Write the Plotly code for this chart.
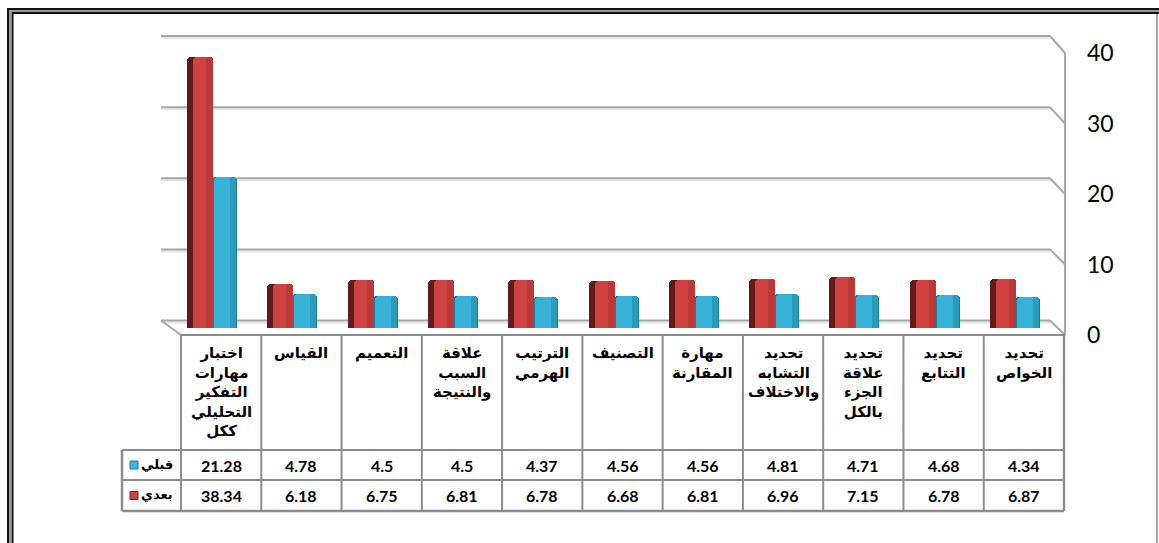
import plotly.graph_objects as go

# ---------------- data ----------------
categories = [
    "اختبار مهارات التفكير التحليلي ككل",
    "القياس",
    "التعميم",
    "علاقة السبب والنتيجة",
    "الترتيب الهرمي",
    "التصنيف",
    "مهارة المقارنة",
    "تحديد التشابه والاختلاف",
    "تحديد علاقة الجزء بالكل",
    "تحديد التتابع",
    "تحديد الخواص",
]
before_vals = [21.28, 4.78, 4.5, 4.5, 4.37, 4.56, 4.56, 4.81, 4.71, 4.68, 4.34]
after_vals = [38.34, 6.18, 6.75, 6.81, 6.78, 6.68, 6.81, 6.96, 7.15, 6.78, 6.87]
series_before = "قبلي"
series_after = "بعدي"
y_ticks = [0, 10, 20, 30, 40]

# ---------------- geometry helpers ----------------
W, H = 1159, 543


def fx(px):
    return px / W


def fy(py):
    return (H - py) / H


n = len(categories)
x_idx = list(range(n))
TBL_L, TBL_R = 181, 1064
COL_W = (TBL_R - TBL_L) / n
ROW_HDR_L = 122
TBL_TOP, ROW1, ROW2, TBL_BOT = 335, 450, 480, 511
BACK_L, BACK_R = 161, 1050
FRONT_R = 1065

# plane definitions (pixel y of value 0 and value 40)
BAR_Y0, BAR_Y40 = 328, 45.2
BACK_Y0, BACK_Y40 = 320.5, 36
FRONT_Y0, FRONT_Y40 = 335, 53


def back_y(v):
    return BACK_Y0 + (BACK_Y40 - BACK_Y0) * v / 40.0


def front_y(v):
    return FRONT_Y0 + (FRONT_Y40 - FRONT_Y0) * v / 40.0


fig = go.Figure()


def px2u(p):
    return p / COL_W


# cyan (before) behind
fig.add_trace(go.Bar(x=x_idx, y=before_vals, offset=px2u(-9), width=px2u(25),
                     marker=dict(color="#1F7C98", cornerradius=4, line=dict(width=0)),
                     hoverinfo="skip", showlegend=False))
fig.add_trace(go.Bar(x=x_idx, y=before_vals, offset=px2u(-7), width=px2u(22),
                     marker=dict(color="#37B2D6", cornerradius=4, line=dict(width=0)),
                     hoverinfo="skip", showlegend=False))
fig.add_trace(go.Bar(x=x_idx, y=before_vals, offset=px2u(9), width=px2u(6),
                     marker=dict(color="#2C9CBD", cornerradius=3, line=dict(width=0)),
                     hoverinfo="skip", showlegend=False))
# red (after) in front-left
fig.add_trace(go.Bar(x=x_idx, y=after_vals, offset=px2u(-34), width=px2u(26),
                     marker=dict(color="#5E1B19", cornerradius=4, line=dict(width=0)),
                     hoverinfo="skip", showlegend=False))
fig.add_trace(go.Bar(x=x_idx, y=after_vals, offset=px2u(-28), width=px2u(20),
                     marker=dict(color="#CF423F", cornerradius=4, line=dict(width=0)),
                     hoverinfo="skip", showlegend=False))
fig.add_trace(go.Bar(x=x_idx, y=after_vals, offset=px2u(-15), width=px2u(7),
                     marker=dict(color="#B93A38", cornerradius=3, line=dict(width=0)),
                     hoverinfo="skip", showlegend=False))

# dummy trace to host the right-hand value axis
fig.add_trace(go.Scatter(x=[0], y=[0], xaxis="x", yaxis="y3", mode="markers",
                         marker=dict(opacity=0), hoverinfo="skip", showlegend=False))

shapes = []
GRID = "#A6A6A6"
for v in y_ticks:
    shapes.append(dict(type="line", xref="paper", yref="paper",
                       x0=fx(BACK_L), x1=fx(BACK_R), y0=fy(back_y(v) + 2), y1=fy(back_y(v) + 2),
                       line=dict(color="#E4E4E4", width=2), layer="below"))
    shapes.append(dict(type="line", xref="paper", yref="paper",
                       x0=fx(BACK_L), x1=fx(BACK_R), y0=fy(back_y(v)), y1=fy(back_y(v)),
                       line=dict(color=GRID, width=2), layer="below"))
    shapes.append(dict(type="line", xref="paper", yref="paper",
                       x0=fx(BACK_R), x1=fx(FRONT_R), y0=fy(back_y(v)), y1=fy(front_y(v)),
                       line=dict(color=GRID, width=2), layer="below"))
shapes.append(dict(type="line", xref="paper", yref="paper",
                   x0=fx(FRONT_R), x1=fx(FRONT_R), y0=fy(front_y(0)), y1=fy(front_y(40)),
                   line=dict(color=GRID, width=2), layer="below"))
shapes.append(dict(type="line", xref="paper", yref="paper",
                   x0=fx(BACK_L), x1=fx(TBL_L), y0=fy(back_y(0)), y1=fy(TBL_TOP),
                   line=dict(color=GRID, width=2), layer="below"))

# ---------------- data table ----------------
TL = "#8C8C8C"


def hline(y, xa, xb, w=2):
    shapes.append(dict(type="line", xref="paper", yref="paper", x0=fx(xa), x1=fx(xb),
                       y0=fy(y), y1=fy(y), line=dict(color=TL, width=w)))


def vline(x, ya, yb, w=2):
    shapes.append(dict(type="line", xref="paper", yref="paper", x0=fx(x), x1=fx(x),
                       y0=fy(ya), y1=fy(yb), line=dict(color=TL, width=w)))


hline(TBL_TOP, TBL_L, TBL_R + 1)
hline(ROW1, ROW_HDR_L, TBL_R)
hline(ROW2, ROW_HDR_L, TBL_R)
hline(TBL_BOT, ROW_HDR_L, TBL_R, 2.5)
vline(ROW_HDR_L, ROW1, TBL_BOT, 2.5)
for i in range(n + 1):
    vline(TBL_L + i * COL_W, TBL_TOP, TBL_BOT, 2.5 if i == n else 2)

# legend keys
for (yc, c_main, c_dark) in [((ROW1 + ROW2) / 2, "#3DB6DA", "#1E7B96"),
                             ((ROW2 + TBL_BOT) / 2, "#D0423F", "#7A2422")]:
    shapes.append(dict(type="rect", xref="paper", yref="paper",
                       x0=fx(130), x1=fx(138), y0=fy(yc - 4), y1=fy(yc + 4),
                       fillcolor=c_main, line=dict(color=c_dark, width=1)))

# ---------------- outer frame ----------------
shapes += [
    dict(type="line", xref="paper", yref="paper", x0=fx(7), x1=1, y0=fy(9), y1=fy(9),
         line=dict(color="#111111", width=2)),
    dict(type="line", xref="paper", yref="paper", x0=fx(9), x1=1, y0=fy(11), y1=fy(11),
         line=dict(color="#9A9A9A", width=2)),
    dict(type="line", xref="paper", yref="paper", x0=fx(12), x1=1, y0=fy(13), y1=fy(13),
         line=dict(color="#111111", width=2)),
    dict(type="line", xref="paper", yref="paper", x0=fx(8), x1=fx(8), y0=fy(8), y1=0,
         line=dict(color="#111111", width=2)),
    dict(type="line", xref="paper", yref="paper", x0=fx(10), x1=fx(10), y0=fy(10), y1=0,
         line=dict(color="#9A9A9A", width=2)),
    dict(type="line", xref="paper", yref="paper", x0=fx(12.5), x1=fx(12.5), y0=fy(12), y1=0,
         line=dict(color="#111111", width=2)),
    dict(type="line", xref="paper", yref="paper", x0=fx(1157), x1=fx(1157), y0=fy(14), y1=0,
         line=dict(color="#8A8A8A", width=1.5)),
]

annotations = []
AR_FONT = dict(family="DejaVu Sans", size=15, color="#000000")
HDR_FONT = dict(family="DejaVu Sans", size=13, color="#000000")
NUM_FONT = dict(family="Lato", size=16, color="#000000")
for i, cat in enumerate(categories):
    annotations.append(dict(xref="x", yref="paper", x=i, y=fy(342),
                            text="<b>" + "<br>".join(cat.split(" ")) + "</b>",
                            showarrow=False, xanchor="center", yanchor="top",
                            align="center", font=AR_FONT))
    annotations.append(dict(xref="x", yref="paper", x=i, y=fy((ROW1 + ROW2) / 2),
                            text="<b>" + str(before_vals[i]) + "</b>",
                            showarrow=False, xanchor="center", yanchor="middle", font=NUM_FONT))
    annotations.append(dict(xref="x", yref="paper", x=i, y=fy((ROW2 + TBL_BOT) / 2),
                            text="<b>" + str(after_vals[i]) + "</b>",
                            showarrow=False, xanchor="center", yanchor="middle", font=NUM_FONT))
for name, yc in [(series_before, (ROW1 + ROW2) / 2), (series_after, (ROW2 + TBL_BOT) / 2)]:
    annotations.append(dict(xref="paper", yref="paper", x=fx(175), y=fy(yc - 1),
                            text="<b>" + name + "</b>", showarrow=False,
                            xanchor="right", yanchor="middle", font=HDR_FONT))

fig.update_layout(
    width=W, height=H, autosize=False,
    margin=dict(l=0, r=0, t=0, b=0, pad=0, autoexpand=False),
    paper_bgcolor="white", plot_bgcolor="rgba(0,0,0,0)",
    barmode="overlay", bargap=0,
    showlegend=False,
    xaxis=dict(domain=[fx(TBL_L), fx(TBL_R)], range=[-0.5, n - 0.5], visible=False,
               fixedrange=True),
    yaxis=dict(domain=[fy(BAR_Y0), fy(BAR_Y40)], range=[0, 40], visible=False,
               fixedrange=True),
    yaxis3=dict(domain=[fy(FRONT_Y0), fy(FRONT_Y40)], range=[0, 40], anchor="free",
                position=fx(1086), side="right", tickvals=y_ticks,
                showgrid=False, zeroline=False, showline=False, ticks="",
                tickfont=dict(family="Lato", size=23, color="#000000"), fixedrange=True),
    shapes=shapes,
    annotations=annotations,
)

fig.write_html("out.html")
